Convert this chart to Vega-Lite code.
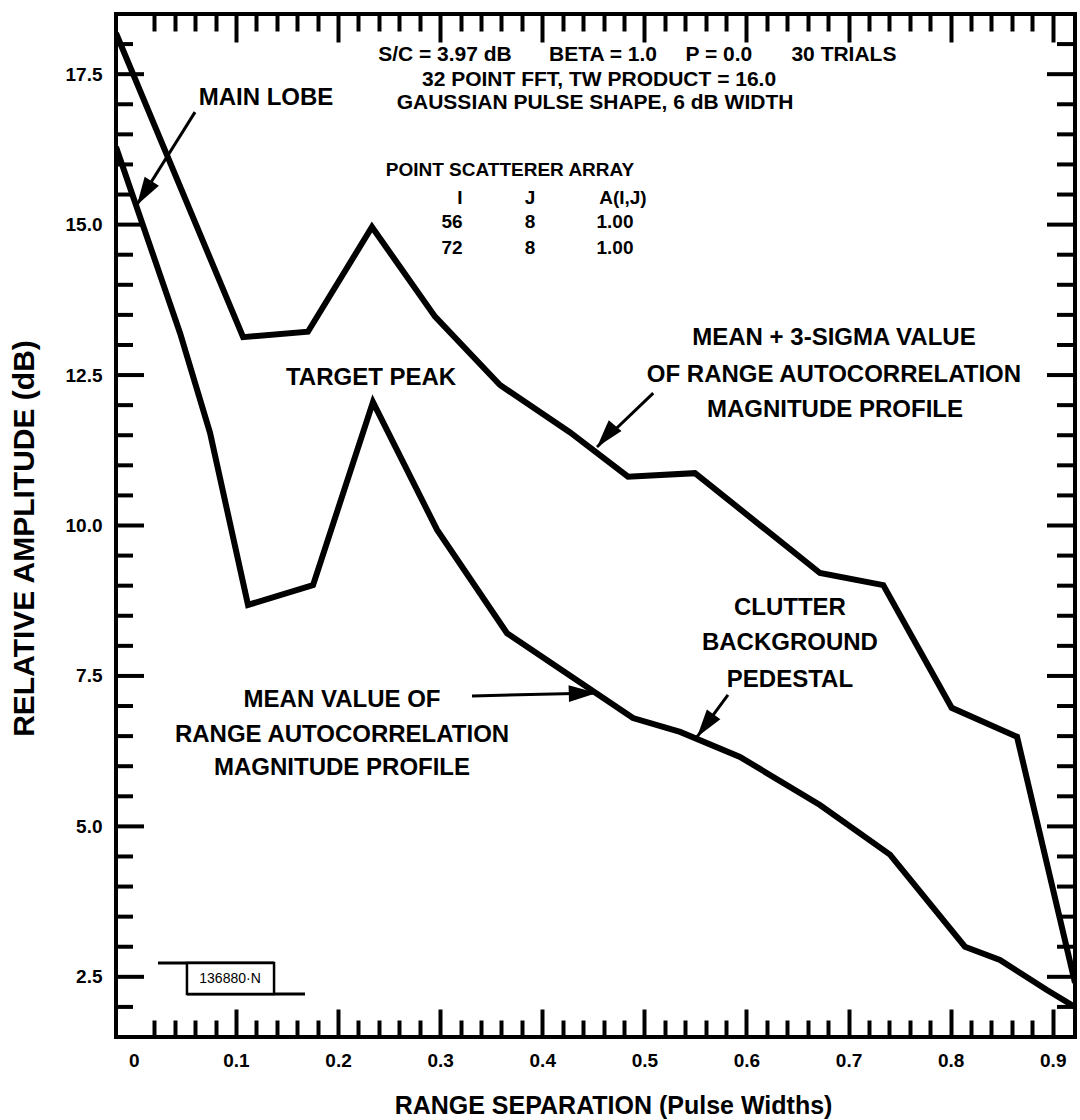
{
  "$schema": "https://vega.github.io/schema/vega-lite/v6.json",
  "autosize": {"type": "none"},
  "padding": {"left": 116, "top": 14, "right": 5, "bottom": 83},
  "width": 959,
  "height": 1023,
  "background": "white",
  "config": {
    "font": "Liberation Sans",
    "view": {"stroke": "black", "strokeWidth": 4},
    "axis": {"labelColor": "black", "titleColor": "black", "labelFontWeight": "bold", "titleFontWeight": "bold"}
  },
  "resolve": {"axis": {"x": "independent"}},
  "datasets": {
    "curves": [
      {"series": "mean+3sigma", "x": -0.0175, "y": 18.18},
      {"series": "mean+3sigma", "x": 0.107, "y": 13.13},
      {"series": "mean+3sigma", "x": 0.1705, "y": 13.22},
      {"series": "mean+3sigma", "x": 0.2332, "y": 14.96},
      {"series": "mean+3sigma", "x": 0.295, "y": 13.47},
      {"series": "mean+3sigma", "x": 0.3586, "y": 12.335},
      {"series": "mean+3sigma", "x": 0.427, "y": 11.55},
      {"series": "mean+3sigma", "x": 0.484, "y": 10.81},
      {"series": "mean+3sigma", "x": 0.5496, "y": 10.87},
      {"series": "mean+3sigma", "x": 0.672, "y": 9.21},
      {"series": "mean+3sigma", "x": 0.734, "y": 9.01},
      {"series": "mean+3sigma", "x": 0.801, "y": 6.97},
      {"series": "mean+3sigma", "x": 0.865, "y": 6.49},
      {"series": "mean+3sigma", "x": 0.9218, "y": 2.4},
      {"series": "mean", "x": -0.0175, "y": 16.29},
      {"series": "mean", "x": 0.0452, "y": 13.2},
      {"series": "mean", "x": 0.0746, "y": 11.54},
      {"series": "mean", "x": 0.1118, "y": 8.68},
      {"series": "mean", "x": 0.1755, "y": 9.01},
      {"series": "mean", "x": 0.2342, "y": 12.05},
      {"series": "mean", "x": 0.2969, "y": 9.93},
      {"series": "mean", "x": 0.3655, "y": 8.21},
      {"series": "mean", "x": 0.4889, "y": 6.8},
      {"series": "mean", "x": 0.535, "y": 6.57},
      {"series": "mean", "x": 0.5937, "y": 6.154},
      {"series": "mean", "x": 0.672, "y": 5.356},
      {"series": "mean", "x": 0.7406, "y": 4.53},
      {"series": "mean", "x": 0.814, "y": 3.0},
      {"series": "mean", "x": 0.8483, "y": 2.78},
      {"series": "mean", "x": 0.8943, "y": 2.28},
      {"series": "mean", "x": 0.9218, "y": 2.0}
    ],
    "yt": [
      {"v": 2.0, "m": 0}, {"v": 2.5, "m": 1}, {"v": 3.0, "m": 0}, {"v": 3.5, "m": 0}, {"v": 4.0, "m": 0}, {"v": 4.5, "m": 0},
      {"v": 5.0, "m": 1}, {"v": 5.5, "m": 0}, {"v": 6.0, "m": 0}, {"v": 6.5, "m": 0}, {"v": 7.0, "m": 0},
      {"v": 7.5, "m": 1}, {"v": 8.0, "m": 0}, {"v": 8.5, "m": 0}, {"v": 9.0, "m": 0}, {"v": 9.5, "m": 0},
      {"v": 10.0, "m": 1}, {"v": 10.5, "m": 0}, {"v": 11.0, "m": 0}, {"v": 11.5, "m": 0}, {"v": 12.0, "m": 0},
      {"v": 12.5, "m": 1}, {"v": 13.0, "m": 0}, {"v": 13.5, "m": 0}, {"v": 14.0, "m": 0}, {"v": 14.5, "m": 0},
      {"v": 15.0, "m": 1}, {"v": 15.5, "m": 0}, {"v": 16.0, "m": 0}, {"v": 16.5, "m": 0}, {"v": 17.0, "m": 0},
      {"v": 17.5, "m": 1}, {"v": 18.0, "m": 0}
    ],
    "info": [
      {"t": "S/C = 3.97 dB", "x": 0.3047, "y": 17.819},
      {"t": "BETA = 1.0", "x": 0.4595, "y": 17.819},
      {"t": "P = 0.0", "x": 0.573, "y": 17.819},
      {"t": "30 TRIALS", "x": 0.6955, "y": 17.819},
      {"t": "32 POINT FFT, TW PRODUCT = 16.0", "x": 0.4556, "y": 17.403},
      {"t": "GAUSSIAN PULSE SHAPE, 6 dB WIDTH", "x": 0.4517, "y": 17.021}
    ],
    "table": [
      {"t": "POINT SCATTERER ARRAY", "x": 0.3684, "y": 15.908},
      {"t": "I", "x": 0.3194, "y": 15.443},
      {"t": "J", "x": 0.388, "y": 15.443},
      {"t": "A(I,J)", "x": 0.479, "y": 15.443},
      {"t": "56", "x": 0.3116, "y": 15.044},
      {"t": "8", "x": 0.388, "y": 15.044},
      {"t": "1.00", "x": 0.4712, "y": 15.044},
      {"t": "72", "x": 0.3116, "y": 14.612},
      {"t": "8", "x": 0.388, "y": 14.612},
      {"t": "1.00", "x": 0.4712, "y": 14.612}
    ],
    "labels": [
      {"t": "MAIN LOBE", "x": 0.1294, "y": 17.104},
      {"t": "TARGET PEAK", "x": 0.2323, "y": 12.452},
      {"t": "MEAN + 3-SIGMA VALUE", "x": 0.6857, "y": 13.116},
      {"t": "OF RANGE AUTOCORRELATION", "x": 0.6857, "y": 12.501},
      {"t": "MAGNITUDE PROFILE", "x": 0.6867, "y": 11.92},
      {"t": "CLUTTER", "x": 0.6426, "y": 8.629},
      {"t": "BACKGROUND", "x": 0.6426, "y": 8.048},
      {"t": "PEDESTAL", "x": 0.6426, "y": 7.433},
      {"t": "MEAN VALUE OF", "x": 0.2039, "y": 7.101},
      {"t": "RANGE AUTOCORRELATION", "x": 0.2039, "y": 6.519},
      {"t": "MAGNITUDE PROFILE", "x": 0.2039, "y": 5.971}
    ],
    "arrows": [
      {"x": 0.0599, "y": 16.87, "x2": 0.003, "y2": 15.33, "hx": 0.0103, "hy": 15.524, "a": 211.9},
      {"x": 0.5087, "y": 12.2, "x2": 0.4536, "y2": 11.305, "hx": 0.4625, "hy": 11.483, "a": 220.4},
      {"x": 0.3312, "y": 7.167, "x2": 0.4536, "y2": 7.217, "hx": 0.4397, "hy": 7.212, "a": 88.6},
      {"x": 0.5819, "y": 7.184, "x2": 0.5516, "y2": 6.486, "hx": 0.5597, "hy": 6.674, "a": 216.4}
    ],
    "stampbox": [{"x": 0.052, "x2": 0.1373, "y": 2.731, "y2": 2.216}],
    "stamplines": [
      {"x": 0.0236, "x2": 0.1373, "y": 2.731, "y2": 2.731},
      {"x": 0.052, "x2": 0.1676, "y": 2.216, "y2": 2.216}
    ],
    "stamptext": [{"t": "136880·N", "x": 0.0942, "y": 2.465}]
  },
  "layer": [
    {
      "data": {"name": "curves"},
      "mark": {"type": "line", "color": "black", "strokeWidth": 6, "clip": true},
      "encoding": {
        "x": {
          "field": "x", "type": "quantitative",
          "scale": {"domain": [-0.0175, 0.9218], "nice": false, "zero": false},
          "axis": {
            "orient": "bottom",
            "title": "RANGE SEPARATION (Pulse Widths)",
            "values": [0, 0.1, 0.2, 0.3, 0.4, 0.5, 0.6, 0.7, 0.8, 0.9],
            "labelExpr": "datum.value == 0 ? '0' : format(datum.value, '.1f')",
            "ticks": false, "tickSize": 0, "domain": false, "grid": false,
            "labelFontSize": 19, "labelPadding": 14, "labelFlush": false, "labelOverlap": false, "labelBound": false,
            "titleFontSize": 25, "titleX": 497, "titleY": 68, "titleAlign": "center", "titleBaseline": "middle"
          }
        },
        "y": {
          "field": "y", "type": "quantitative",
          "scale": {"domain": [1.5, 18.5], "nice": false, "zero": false},
          "axis": {
            "title": "RELATIVE AMPLITUDE (dB)",
            "values": [2.5, 5, 7.5, 10, 12.5, 15, 17.5],
            "format": ".1f",
            "ticks": false, "tickSize": 0, "domain": false, "grid": false,
            "labelFontSize": 19, "labelPadding": 14, "labelFlush": false, "labelOverlap": false, "labelBound": false,
            "titleFontSize": 30, "titleAngle": 270, "titleX": -92, "titleY": 524, "titleAlign": "center", "titleBaseline": "middle"
          }
        },
        "detail": {"field": "series", "type": "nominal"}
      }
    },
    {
      "data": {"name": "curves"},
      "mark": {"type": "point", "opacity": 0},
      "encoding": {
        "x": {"field": "x", "type": "quantitative", "axis": {"orient": "bottom", "values": [0.1, 0.2, 0.3, 0.4, 0.5, 0.6, 0.7, 0.8, 0.9], "labels": false, "domain": false, "grid": false, "ticks": true, "tickSize": -28, "tickWidth": 4, "tickColor": "black", "tickCap": "butt", "title": null, "zindex": 1}},
        "y": {"field": "y", "type": "quantitative"}
      }
    },
    {
      "data": {"name": "curves"},
      "mark": {"type": "point", "opacity": 0},
      "encoding": {
        "x": {"field": "x", "type": "quantitative", "axis": {"orient": "bottom", "values": [0.02, 0.04, 0.06, 0.08, 0.12, 0.14, 0.16, 0.18, 0.22, 0.24, 0.26, 0.28, 0.32, 0.34, 0.36, 0.38, 0.42, 0.44, 0.46, 0.48, 0.52, 0.54, 0.56, 0.58, 0.62, 0.64, 0.66, 0.68, 0.72, 0.74, 0.76, 0.78, 0.82, 0.84, 0.86, 0.88], "labels": false, "domain": false, "grid": false, "ticks": true, "tickSize": -17, "tickWidth": 4, "tickColor": "black", "tickCap": "butt", "title": null, "zindex": 1}},
        "y": {"field": "y", "type": "quantitative"}
      }
    },
    {
      "data": {"name": "curves"},
      "mark": {"type": "point", "opacity": 0},
      "encoding": {
        "x": {"field": "x", "type": "quantitative", "axis": {"orient": "bottom", "offset": -1023, "values": [0.1, 0.2, 0.3, 0.4, 0.5, 0.6, 0.7, 0.8, 0.9], "labels": false, "domain": false, "grid": false, "ticks": true, "tickSize": 28, "tickWidth": 4, "tickColor": "black", "tickCap": "butt", "title": null, "zindex": 1}},
        "y": {"field": "y", "type": "quantitative"}
      }
    },
    {
      "data": {"name": "curves"},
      "mark": {"type": "point", "opacity": 0},
      "encoding": {
        "x": {"field": "x", "type": "quantitative", "axis": {"orient": "bottom", "offset": -1023, "values": [0.02, 0.04, 0.06, 0.08, 0.12, 0.14, 0.16, 0.18, 0.22, 0.24, 0.26, 0.28, 0.32, 0.34, 0.36, 0.38, 0.42, 0.44, 0.46, 0.48, 0.52, 0.54, 0.56, 0.58, 0.62, 0.64, 0.66, 0.68, 0.72, 0.74, 0.76, 0.78, 0.82, 0.84, 0.86, 0.88], "labels": false, "domain": false, "grid": false, "ticks": true, "tickSize": 17, "tickWidth": 4, "tickColor": "black", "tickCap": "butt", "title": null, "zindex": 1}},
        "y": {"field": "y", "type": "quantitative"}
      }
    },
    {
      "data": {"name": "yt"},
      "mark": {"type": "point", "shape": "M0,0L1,0", "filled": false, "color": "black", "strokeWidth": 4, "opacity": 1, "strokeCap": "butt"},
      "encoding": {
        "y": {"field": "v", "type": "quantitative"},
        "x": {"datum": -0.0175, "axis": null},
        "size": {"condition": {"test": "datum.m == 1", "value": 3136}, "value": 1156}
      }
    },
    {
      "data": {"name": "yt"},
      "mark": {"type": "point", "shape": "M-1,0L0,0", "filled": false, "color": "black", "strokeWidth": 4, "opacity": 1, "strokeCap": "butt"},
      "encoding": {
        "y": {"field": "v", "type": "quantitative"},
        "x": {"datum": 0.9218, "axis": null},
        "size": {"condition": {"test": "datum.m == 1", "value": 3136}, "value": 1296}
      }
    },
    {
      "data": {"name": "arrows"},
      "mark": {"type": "rule", "color": "black", "strokeWidth": 3},
      "encoding": {
        "x": {"field": "x", "type": "quantitative", "axis": null},
        "y": {"field": "y", "type": "quantitative"},
        "x2": {"field": "x2"},
        "y2": {"field": "y2"}
      }
    },
    {
      "data": {"name": "arrows"},
      "mark": {"type": "point", "shape": "M0,-1L0.6,1L-0.6,1Z", "filled": true, "color": "black", "opacity": 1, "size": 784},
      "encoding": {
        "x": {"field": "hx", "type": "quantitative", "axis": null},
        "y": {"field": "hy", "type": "quantitative"},
        "angle": {"field": "a", "type": "quantitative", "scale": null}
      }
    },
    {
      "data": {"name": "info"},
      "mark": {"type": "text", "fontSize": 21, "fontWeight": "bold", "color": "black", "align": "center", "baseline": "middle"},
      "encoding": {
        "x": {"field": "x", "type": "quantitative", "axis": null},
        "y": {"field": "y", "type": "quantitative"},
        "text": {"field": "t"}
      }
    },
    {
      "data": {"name": "table"},
      "mark": {"type": "text", "fontSize": 19, "fontWeight": "bold", "color": "black", "align": "center", "baseline": "middle"},
      "encoding": {
        "x": {"field": "x", "type": "quantitative", "axis": null},
        "y": {"field": "y", "type": "quantitative"},
        "text": {"field": "t"}
      }
    },
    {
      "data": {"name": "labels"},
      "mark": {"type": "text", "fontSize": 24, "fontWeight": "bold", "color": "black", "align": "center", "baseline": "middle"},
      "encoding": {
        "x": {"field": "x", "type": "quantitative", "axis": null},
        "y": {"field": "y", "type": "quantitative"},
        "text": {"field": "t"}
      }
    },
    {
      "data": {"name": "stamplines"},
      "mark": {"type": "rule", "color": "black", "strokeWidth": 3},
      "encoding": {
        "x": {"field": "x", "type": "quantitative", "axis": null},
        "y": {"field": "y", "type": "quantitative"},
        "x2": {"field": "x2"},
        "y2": {"field": "y2"}
      }
    },
    {
      "data": {"name": "stampbox"},
      "mark": {"type": "rect", "fill": "white", "stroke": "black", "strokeWidth": 2.5},
      "encoding": {
        "x": {"field": "x", "type": "quantitative", "axis": null},
        "y": {"field": "y", "type": "quantitative"},
        "x2": {"field": "x2"},
        "y2": {"field": "y2"}
      }
    },
    {
      "data": {"name": "stamptext"},
      "mark": {"type": "text", "fontSize": 14, "color": "black", "align": "center", "baseline": "middle"},
      "encoding": {
        "x": {"field": "x", "type": "quantitative", "axis": null},
        "y": {"field": "y", "type": "quantitative"},
        "text": {"field": "t"}
      }
    }
  ]
}
